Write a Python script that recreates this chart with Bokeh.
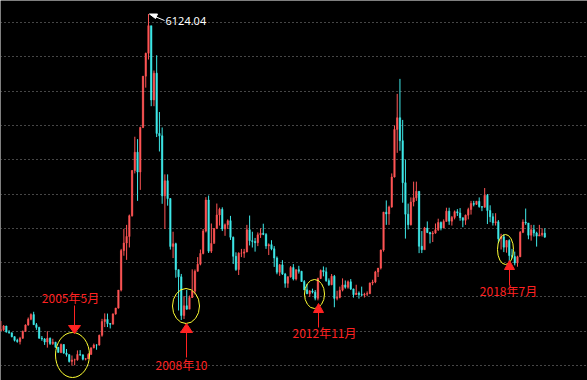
import pandas as pd
from bokeh.plotting import figure
from bokeh.models import Range1d, FixedTicker, ColumnDataSource
from bokeh.core.properties import value
from bokeh.embed import file_html
from bokeh.resources import INLINE

# Monthly OHLC read for the index, Apr 2003 - Nov 2019
start_month = "2003-04-01"
first_open = 1510
high = [
    1649, 1590, 1580, 1515, 1480, 1425, 1390, 1418, 1510,                      # 2003
    1600, 1700, 1760, 1783, 1620, 1565, 1430, 1400, 1500, 1410, 1390, 1345,    # 2004
    1270, 1320, 1310, 1240, 1160, 1146, 1100, 1220, 1224, 1160, 1110, 1180,    # 2005
    1260, 1320, 1310, 1450, 1680, 1760, 1757, 1620, 1760, 1840, 2100, 2700,    # 2006
    2990, 3050, 3200, 3850, 4335, 4300, 4480, 5220, 5560, 6124, 5950, 5300,    # 2007
    5522, 4695, 4470, 3786, 3786, 3440, 2950, 2790, 2400, 2335, 2010, 2100,    # 2008
    2020, 2402, 2400, 2580, 2690, 2990, 3454, 3478, 3070, 3000, 3361, 3300,    # 2009
    3306, 3070, 3130, 3181, 2880, 2650, 2650, 2700, 2700, 3050, 3186, 2950,    # 2010
    2860, 2940, 3000, 3067, 2930, 2780, 2827, 2740, 2590, 2480, 2536, 2350,    # 2011
    2300, 2450, 2478, 2400, 2453, 2380, 2245, 2190, 2100, 2120, 2100, 2280,    # 2012
    2400, 2444, 2430, 2270, 2334, 2320, 2090, 2150, 2270, 2240, 2240, 2260,    # 2013
    2120, 2177, 2080, 2150, 2060, 2080, 2210, 2250, 2380, 2420, 2690, 3240,    # 2014
    3406, 3330, 3800, 4500, 4960, 5178, 4580, 4000, 3360, 3450, 3680, 3680,    # 2015
    3540, 2960, 3020, 3100, 2950, 2960, 3070, 3140, 3100, 3130, 3300, 3300,    # 2016
    3180, 3260, 3280, 3295, 3155, 3200, 3300, 3400, 3400, 3400, 3450, 3320,    # 2017
    3587, 3500, 3335, 3220, 3220, 3120, 2920, 2915, 2830, 2840, 2700, 2660,    # 2018
    2600, 2960, 3130, 3288, 3000, 3050, 3050, 2950, 3050, 3000, 3000,          # 2019
]
low = [
    1505, 1500, 1480, 1464, 1410, 1350, 1332, 1307, 1390,                      # 2003
    1494, 1580, 1660, 1590, 1520, 1390, 1360, 1300, 1260, 1300, 1300, 1260,    # 2004
    1189, 1180, 1170, 1130, 1043, 998, 1004, 1070, 1140, 1075, 1074, 1092,     # 2005
    1160, 1250, 1230, 1290, 1420, 1560, 1560, 1540, 1600, 1740, 1830, 2080,    # 2006
    2600, 2540, 2720, 3170, 3800, 3400, 3560, 4460, 5050, 5460, 4780, 4780,    # 2007
    4330, 4120, 3357, 2990, 3330, 2690, 2566, 2280, 1802, 1664, 1678, 1814,    # 2008
    1845, 1984, 2037, 2370, 2460, 2620, 2940, 2640, 2640, 2800, 3000, 3040,    # 2009
    2960, 2890, 2990, 2830, 2480, 2380, 2319, 2580, 2570, 2650, 2750, 2720,    # 2010
    2660, 2740, 2860, 2900, 2700, 2610, 2680, 2437, 2330, 2307, 2320, 2134,    # 2011
    2132, 2280, 2240, 2240, 2340, 2220, 2100, 2040, 1999, 2050, 1950, 1949,    # 2012
    2260, 2300, 2220, 2160, 2170, 1849, 1950, 1980, 2080, 2120, 2120, 2100,    # 2013
    1990, 2030, 1975, 2010, 1991, 2010, 2040, 2170, 2200, 2290, 2400, 2660,    # 2014
    3050, 3050, 3300, 3740, 4100, 4130, 3373, 2850, 2983, 3040, 3320, 3400,    # 2015
    2638, 2639, 2730, 2930, 2780, 2800, 2920, 2960, 2970, 3000, 3100, 3050,    # 2016
    3040, 3130, 3180, 3110, 3016, 3050, 3130, 3200, 3320, 3340, 3300, 3250,    # 2017
    3300, 3062, 3090, 3040, 3040, 2780, 2691, 2653, 2644, 2449, 2560, 2460,    # 2018
    2440, 2580, 2930, 3050, 2840, 2820, 2880, 2733, 2890, 2880, 2860,          # 2019
]
close = [
    1521, 1576, 1487, 1476, 1421, 1367, 1349, 1397, 1497,                      # 2003
    1590, 1675, 1742, 1595, 1555, 1399, 1386, 1342, 1396, 1320, 1340, 1266,    # 2004
    1191, 1306, 1181, 1159, 1060, 1080, 1083, 1162, 1155, 1092, 1099, 1161,    # 2005
    1258, 1299, 1298, 1440, 1641, 1672, 1612, 1601, 1752, 1837, 2099, 2675,    # 2006
    2786, 2881, 3183, 3841, 4109, 3820, 4471, 5218, 5552, 5954, 4871, 5262,    # 2007
    4383, 4348, 3473, 3693, 3433, 2736, 2775, 2397, 2293, 1729, 1871, 1821,    # 2008
    1991, 2082, 2373, 2477, 2633, 2959, 3412, 2667, 2779, 2996, 3195, 3277,    # 2009
    2989, 3051, 3110, 2870, 2592, 2398, 2638, 2638, 2656, 2979, 2820, 2808,    # 2010
    2791, 2905, 2928, 2911, 2743, 2762, 2701, 2568, 2359, 2468, 2333, 2199,    # 2011
    2292, 2428, 2262, 2397, 2373, 2225, 2103, 2047, 2086, 2069, 1980, 2269,    # 2012
    2385, 2366, 2237, 2178, 2301, 1979, 1994, 2098, 2175, 2141, 2220, 2116,    # 2013
    2033, 2056, 2033, 2026, 2039, 2048, 2202, 2217, 2364, 2420, 2683, 3235,    # 2014
    3210, 3310, 3748, 4442, 4612, 4277, 3664, 3206, 3053, 3383, 3445, 3539,    # 2015
    2738, 2688, 3004, 2938, 2917, 2930, 2979, 3085, 3005, 3100, 3250, 3104,    # 2016
    3159, 3242, 3223, 3155, 3117, 3192, 3273, 3361, 3349, 3393, 3317, 3307,    # 2017
    3481, 3259, 3169, 3082, 3095, 2847, 2876, 2725, 2821, 2603, 2588, 2494,    # 2018
    2585, 2941, 3091, 3078, 2899, 2979, 2932, 2886, 2905, 2929, 2872,          # 2019
]
grid_levels = [1000, 1500, 2000, 2500, 3000, 3500, 4000, 4500, 5000, 5500, 6000]
peak_label = "6124.04"
note_labels = ["2005年5月", "2008年10", "2012年11月", "2018年7月"]

UP = "#ff5555"
DOWN = "#3ee8e8"
NOTE = "#ff2222"

dates = pd.date_range(start_month, periods=len(close), freq="MS")
t = [d.year + (d.month - 0.5) / 12 for d in dates]
opn = [first_open] + close[:-1]
colors = [UP if c >= o else DOWN for o, c in zip(opn, close)]
src = ColumnDataSource(dict(t=t, o=opn, h=high, l=low, c=close,
                            top=[max(o, c) for o, c in zip(opn, close)],
                            bot=[min(o, c) for o, c in zip(opn, close)],
                            col=colors))

W, H = 587, 380
X0, KX = 2003.28, 32.8          # left year, px per year
YTOP, SY = 6320.7, 14.577       # top value, value per px


def fx(px):
    return X0 + px / KX


def fy(py):
    return YTOP - py * SY


p = figure(width=W, height=H, output_backend="svg", toolbar_location=None,
           x_range=Range1d(X0, X0 + W / KX), y_range=Range1d(YTOP - H * SY, YTOP),
           min_border=0, background_fill_color="black", border_fill_color="black")
p.outline_line_color = None
p.xaxis.visible = False
p.yaxis.visible = False
p.xgrid.visible = False
p.ygrid.ticker = FixedTicker(ticks=grid_levels)
p.ygrid.grid_line_color = "#8c8c8c"
p.ygrid.grid_line_dash = "1 3"
p.ygrid.grid_line_width = 1

p.segment(x0="t", y0="l", x1="t", y1="h", source=src, line_color="col", line_width=1)
p.vbar(x="t", top="top", bottom="bot", width=0.045, source=src,
       fill_color="col", line_color="col", line_width=0.5)

# peak label
p.segment(x0=[fx(164)], y0=[fy(20)], x1=[fx(152)], y1=[fy(15)], line_color="white", line_width=1)
p.patches(xs=[[fx(149), fx(157), fx(155)]], ys=[[fy(13.5), fy(13.5), fy(18)]],
          fill_color="white", line_color="white")
p.text(x=[fx(165)], y=[fy(20)], text=[peak_label], text_color="white",
       text_font=value("Noto Sans"), text_font_size="11px",
       text_align="left", text_baseline="middle")

# yellow ellipses
p.ellipse(x=[fx(72), fx(185.5), fx(314), fx(505)],
          y=[fy(354.5), fy(305.5), fy(293.5), fy(249)],
          width=[34, 27, 20, 16], height=[45, 35, 29, 30],
          width_units="screen", height_units="screen",
          fill_alpha=0, line_color="#ffff33", line_width=1)

# red arrows
# (x px, tip y, base y, line end y, half width, label x, label y)
arrows = [(74, 333, 325, 305, 6, 70, 297),
          (186, 323, 332, 357, 6, 181, 364),
          (318, 303, 312, 327, 5, 324, 332),
          (509, 260, 269, 285, 5, 508, 290)]
for (ax, tip, base, lend, hw, lx, ly), lab in zip(arrows, note_labels):
    p.segment(x0=[fx(ax)], y0=[fy(base)], x1=[fx(ax)], y1=[fy(lend)], line_color=NOTE, line_width=1)
    p.patches(xs=[[fx(ax - hw), fx(ax + hw), fx(ax)]], ys=[[fy(base), fy(base), fy(tip)]],
              fill_color=NOTE, line_color=NOTE)
    p.text(x=[fx(lx)], y=[fy(ly)], text=[lab], text_color=NOTE,
           text_font=value("Noto Sans CJK SC"), text_font_size="12px",
           text_align="center", text_baseline="middle")

open("out.html", "w").write(file_html(p, INLINE))
